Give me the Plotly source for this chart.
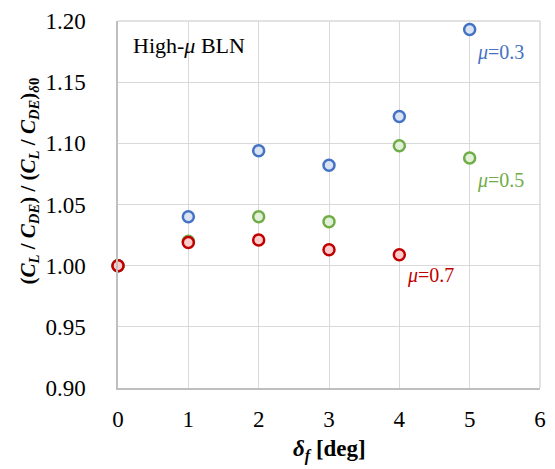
import plotly.graph_objects as go

x_deg = [0, 1, 2, 3, 4, 5]
mu03 = [1.000, 1.040, 1.094, 1.082, 1.122, 1.193]
mu05 = [1.000, 1.020, 1.040, 1.036, 1.098, 1.088]
x_mu07 = [0, 1, 2, 3, 4]
mu07 = [1.000, 1.019, 1.021, 1.013, 1.009]

x_ticks = [0, 1, 2, 3, 4, 5, 6]
y_ticks = [0.90, 0.95, 1.00, 1.05, 1.10, 1.15, 1.20]

FONT = "Liberation Serif, Times New Roman, serif"

fig = go.Figure()
series = [
    (x_deg, mu03, "#4472C4", "#DAE3F3", "μ=0.3"),
    (x_deg, mu05, "#70AD47", "#E2F0D9", "μ=0.5"),
    (x_mu07, mu07, "#C00000", "#FFCCCC", "μ=0.7"),
]
for xs, ys, lc, fc, name in series:
    fig.add_trace(go.Scatter(
        x=xs, y=ys, mode="markers", name=name,
        marker=dict(size=11, color=fc, line=dict(color=lc, width=2.5)),
        showlegend=False, cliponaxis=False,
    ))

fig.update_layout(
    width=555, height=469,
    margin=dict(l=117.5, r=9.3, t=18.5, b=80.7),
    paper_bgcolor="white", plot_bgcolor="white",
    font=dict(family=FONT, size=23, color="black"),
    xaxis=dict(
        range=[0, 6], tickvals=x_ticks, ticktext=[str(v) for v in x_ticks],
        showgrid=True, gridcolor="#D9D9D9", gridwidth=1,
        showline=True, linecolor="#BFBFBF", linewidth=1.5,
        zeroline=False, ticks="", ticklabelstandoff=10,
        tickfont=dict(family=FONT, size=23, color="black"),
    ),
    yaxis=dict(
        range=[0.90, 1.20], tickvals=y_ticks, ticktext=[f"{v:.2f}" for v in y_ticks],
        showgrid=True, gridcolor="#D9D9D9", gridwidth=1,
        showline=True, linecolor="#BFBFBF", linewidth=1.5,
        zeroline=False, ticks="", ticklabelstandoff=26,
        tickfont=dict(family=FONT, size=23, color="black"),
    ),
)

# Frame top/right
fig.add_shape(type="line", xref="paper", yref="paper", x0=0, x1=1, y0=1, y1=1,
              line=dict(color="#D9D9D9", width=1.5))
fig.add_shape(type="line", xref="paper", yref="paper", x0=1, x1=1, y0=0, y1=1,
              line=dict(color="#D9D9D9", width=1.5))

# Axis titles
fig.add_annotation(
    xref="paper", yref="paper", x=0.5, y=0, yshift=-62,
    xanchor="center", yanchor="middle", showarrow=False,
    text="<b><i>δ</i><sub><i>f</i></sub> [deg]</b>",
    font=dict(family=FONT, size=23, color="black"),
)
fig.add_annotation(
    xref="paper", yref="paper", x=0, y=0.5, xshift=-90, yshift=23,
    xanchor="center", yanchor="middle", showarrow=False,
    textangle=-90,
    text="<b>(<i>C<sub>L</sub></i> / <i>C<sub>DE</sub></i>) / (<i>C<sub>L</sub></i> / <i>C<sub>DE</sub></i>)<sub><i>δ</i>0</sub></b>",
    font=dict(family=FONT, size=21, color="black"),
)

# In-plot labels
fig.add_annotation(x=0.19, y=1.180, xanchor="left", showarrow=False,
                   text="High-<i>μ</i> BLN", font=dict(family=FONT, size=22, color="black"))
fig.add_annotation(x=5.07, y=1.1744, xanchor="left", showarrow=False,
                   text="<i>μ</i>=0.3", font=dict(family=FONT, size=20, color="#4472C4"))
fig.add_annotation(x=5.08, y=1.0696, xanchor="left", showarrow=False,
                   text="<i>μ</i>=0.5", font=dict(family=FONT, size=20, color="#70AD47"))
fig.add_annotation(x=4.08, y=0.9919, xanchor="left", showarrow=False,
                   text="<i>μ</i>=0.7", font=dict(family=FONT, size=20, color="#C00000"))

fig.write_html("out.html")
